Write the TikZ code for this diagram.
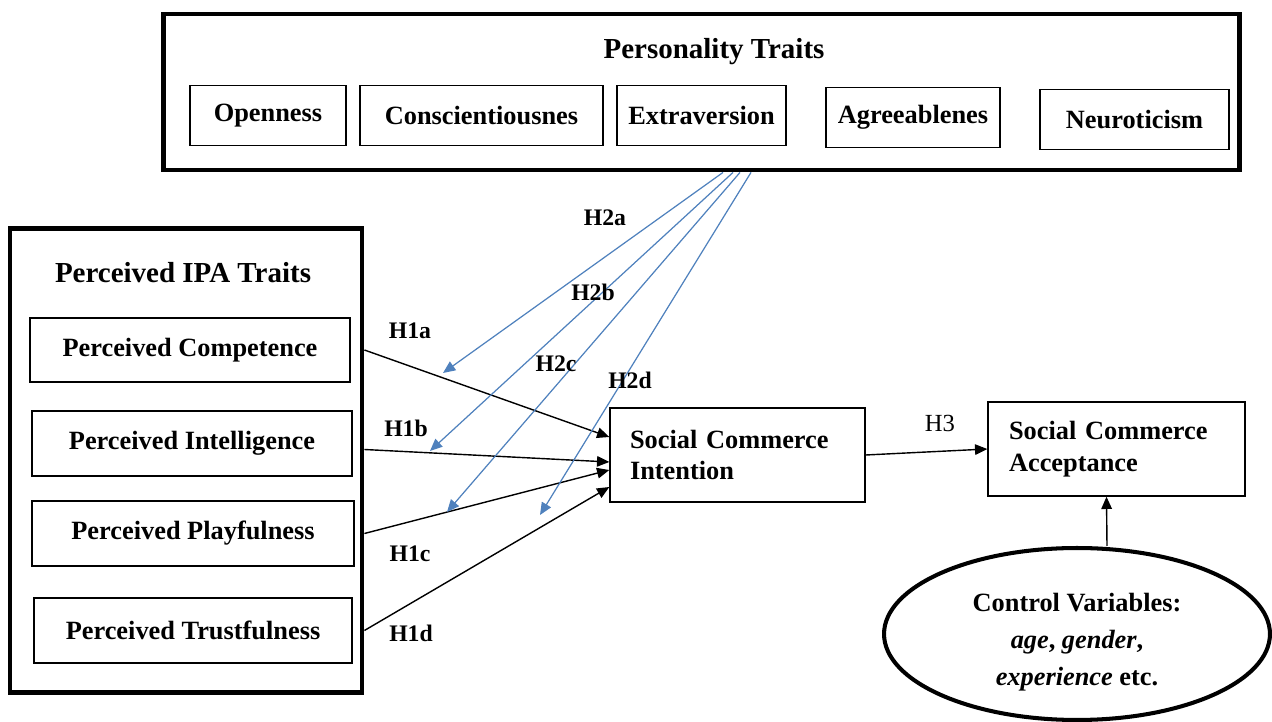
\documentclass[tikz,border=0pt]{standalone}
\usepackage{fontspec}
\setmainfont{Liberation Serif}
\usepackage{tikz}
\usetikzlibrary{arrows.meta,positioning,shapes.geometric,calc}
\definecolor{hblue}{RGB}{79,129,189}

\begin{document}
\begin{tikzpicture}[
        x=0.02cm, y=-0.02cm,
        outer/.style={draw, line width=2.8pt, inner sep=0pt},
        trait/.style={draw, line width=0.7pt, minimum height=1.2cm, inner sep=0pt, font=\fontsize{15}{18}\selectfont\bfseries},
        var/.style={draw, line width=0.8pt, minimum width=5.1cm, minimum height=1.88cm, text width=4.3cm, inner xsep=0.4cm, align=left, font=\fontsize{15}{18}\selectfont\bfseries},
        title/.style={font=\fontsize{16.5}{20}\selectfont\bfseries},
        hyp/.style={font=\fontsize{13.5}{16}\selectfont\bfseries},
        arrow/.style={-{Triangle[length=7pt, width=6pt]}, line width=0.8pt},
        barrow/.style={-{Triangle[length=7pt, width=6pt]}, line width=0.7pt, hblue}
    ]
        \useasboundingbox (0,0) rectangle (1272,722);

        % Personality traits
        \node[outer, minimum width=21.54cm, minimum height=3.12cm] (pers) at (701.5, 92) {};
        \node[title] (perst) at (714, 52) {Personality Traits};
        \node[trait, minimum width=3.12cm] (open) at (268, 115.5) {Openness};
        \node[trait, minimum width=4.86cm] (consc) at (481.5, 115.5) {Conscientiousnes};
        \node[trait, minimum width=3.38cm] (extra) at (701.5, 115.5) {Extraversion};
        \node[trait, minimum width=3.48cm] (agree) at (913, 117.5) {Agreeablenes};
        \node[trait, minimum width=3.78cm] (neuro) at (1134.5, 119.5) {Neuroticism};

        % Perceived IPA traits
        \node[outer, minimum width=7.04cm, minimum height=9.3cm] (ipa) at (186, 460.5) {};
        \node[title] (ipat) at (183, 273) {Perceived IPA Traits};
        \node[trait, minimum width=6.4cm, minimum height=1.28cm] (comp) at (190, 350) {Perceived Competence};
        \node[trait, minimum width=6.4cm, minimum height=1.3cm] (intel) at (192, 443.5) {Perceived Intelligence};
        \node[trait, minimum width=6.44cm, minimum height=1.3cm] (play) at (193, 533.5) {Perceived Playfulness};
        \node[trait, minimum width=6.36cm, minimum height=1.3cm] (trust) at (193, 630.5) {Perceived Trustfulness};

        % Intention and acceptance
        \node[var] (sci) at (737.5, 455) {Social Commerce\\Intention};
        \node[var, minimum width=5.14cm] (sca) at (1116.5, 449) {Social Commerce\\Acceptance};

        % Control variables
        \node[ellipse, draw, line width=2.3pt, minimum width=7.72cm, minimum height=3.44cm, inner sep=0pt,
              align=center, font=\fontsize{15}{21}\selectfont\bfseries] (ctrl) at (1077, 634)
            {\rule{0pt}{19.5pt}Control Variables:\\\textit{age}, \textit{gender},\\\textit{experience} etc.};

        % H1 paths
        \draw[arrow] (comp.east -| ipa.east) -- ($(sci.west)+(0,-18)$);
        \draw[arrow] ($(intel.east -| ipa.east)+(0,6)$) -- ($(sci.west)+(0,7)$);
        \draw[arrow] (play.east -| ipa.east) -- ($(sci.west)+(0,15)$);
        \draw[arrow] (trust.east -| ipa.east) -- ($(sci.west)+(0,32)$);
        \draw[arrow] (sci.east) -- (sca.west);
        \draw[arrow] ($(ctrl.north)+(30,0)$) -- ($(sca.south)+(-10,0)$);

        % H2 moderation
        \coordinate (m2a) at (443, 373);
        \coordinate (m2b) at (430, 451);
        \coordinate (m2c) at (447, 512);
        \coordinate (m2d) at (540, 515);
        \draw[barrow] ($(pers.south)+(21.5,0)$) -- (m2a);
        \draw[barrow] ($(pers.south)+(31.5,0)$) -- (m2b);
        \draw[barrow] ($(pers.south)+(38.5,0)$) -- (m2c);
        \draw[barrow] ($(pers.south)+(49.5,0)$) -- (m2d);

        % labels
        \node[hyp] (h1a) at (410, 331) {H1a};
        \node[hyp] (h1b) at (406, 428) {H1b};
        \node[hyp] (h1c) at (410, 554) {H1c};
        \node[hyp] (h1d) at (411, 633) {H1d};
        \node[hyp] (h2a) at (605, 218) {H2a};
        \node[hyp] (h2b) at (593, 292) {H2b};
        \node[hyp] (h2c) at (556, 364) {H2c};
        \node[hyp] (h2d) at (630, 380) {H2d};
        \node[font=\fontsize{14}{16}\selectfont] (h3) at (940, 423) {H3};
    \end{tikzpicture}
\end{document}
